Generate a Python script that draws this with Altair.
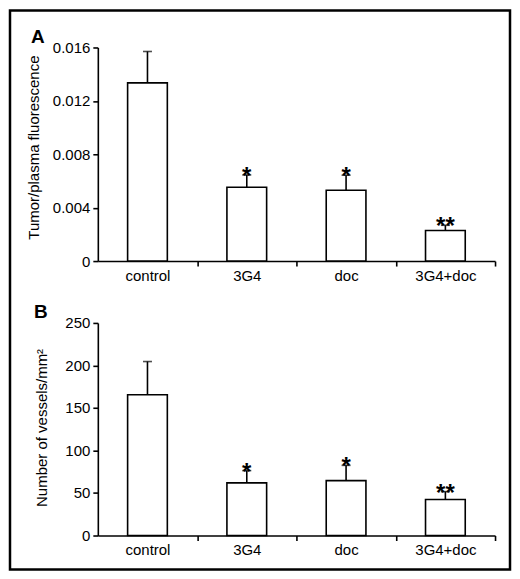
import altair as alt
import pandas as pd

# ---- data ----
categories = ["control", "3G4", "doc", "3G4+doc"]
fluor_mean = [0.01335, 0.00553, 0.00531, 0.00229]
fluor_err = [0.00235, 0.00092, 0.00112, 0.00039]
vessel_mean = [165.5, 61.9, 64.6, 42.3]
vessel_err = [39.1, 14.4, 17.9, 9.3]
signif = ["", "*", "*", "**"]
fluor_ticks = [0, 0.004, 0.008, 0.012, 0.016]
vessel_ticks = [0, 50, 100, 150, 200, 250]

FONT = "Liberation Sans"
W = 398


def panel(mean, err, ticks, ytitle, title_x, title_y, letter, letter_x, letter_y, height, frame=False):
    df = pd.DataFrame({
        "cat": categories,
        "mean": mean,
        "top": [m + e for m, e in zip(mean, err)],
        "sig": signif,
    })
    step = W / 4.0
    xenc = alt.X(
        "cat:N", sort=categories,
        scale=alt.Scale(paddingInner=0.6, paddingOuter=0.3),
        axis=alt.Axis(title=None, labelAngle=0, tickOffset=step / 2, labelOffset=-step / 2,
                      labelPadding=14.5, labelBaseline="alphabetic"),
    )
    yscale = alt.Scale(domain=[ticks[0], ticks[-1]], nice=False)
    yaxis = alt.Axis(values=ticks, format="~r", title=ytitle, titleX=title_x, titleY=title_y,
                     titleAngle=270, titleAlign="center", titleBaseline="alphabetic")

    base = alt.Chart(df)
    bars = base.mark_bar(fill="white", stroke="black", strokeWidth=1.6).encode(
        x=xenc, y=alt.Y("mean:Q", scale=yscale, axis=yaxis))
    rule = base.mark_rule(color="black", strokeWidth=1.6).encode(
        x=xenc, y=alt.Y("mean:Q", scale=yscale, axis=yaxis), y2="top:Q")
    cap = base.mark_tick(color="black", thickness=1.6, size=9).encode(
        x=xenc, y=alt.Y("top:Q", scale=yscale, axis=yaxis))
    stars = base.mark_text(font=FONT, fontSize=24, fontWeight="bold", baseline="alphabetic",
                           dy=9, color="black").encode(
        x=xenc, y=alt.Y("top:Q", scale=yscale, axis=yaxis), text="sig:N")
    lab = alt.Chart(pd.DataFrame({"t": [letter]})).mark_text(
        font=FONT, fontSize=19, fontWeight="bold", align="left", baseline="alphabetic",
        color="black").encode(x=alt.value(letter_x), y=alt.value(letter_y), text="t:N")
    layers = [bars, rule, cap, stars, lab]
    if frame:
        box = alt.Chart(pd.DataFrame({"t": [0]})).mark_rect(
            fill="white", fillOpacity=0, stroke="black", strokeWidth=2.5).encode(
            x=alt.value(-88), x2=alt.value(413), y=alt.value(-313), y2=alt.value(247))
        layers.append(box)
    return alt.layer(*layers).properties(width=W, height=height)


pa = panel(fluor_mean, fluor_err, fluor_ticks, "Tumor/plasma fluorescence",
           -59.7, 99.8, "A", -67, -4.3, 214)
pb = panel(vessel_mean, vessel_err, vessel_ticks, "Number of vessels/mm\u00b2",
           -51.5, 104.7, "B", -64, -5.3, 213, frame=True)

chart = alt.vconcat(pa, pb, spacing=62, bounds="flush").properties(
    padding=0, background="white"
).configure_view(stroke=None).configure_axis(
    labelFont=FONT, labelFontSize=15, labelColor="black",
    titleFont=FONT, titleFontSize=15, titleFontWeight="normal", titleColor="black",
    domainColor="black", tickColor="black", domainWidth=1.6, tickWidth=1.6,
    tickSize=5, labelPadding=3, grid=False,
)

chart.save("out.html", embed_options={"renderer": "svg", "actions": False})
